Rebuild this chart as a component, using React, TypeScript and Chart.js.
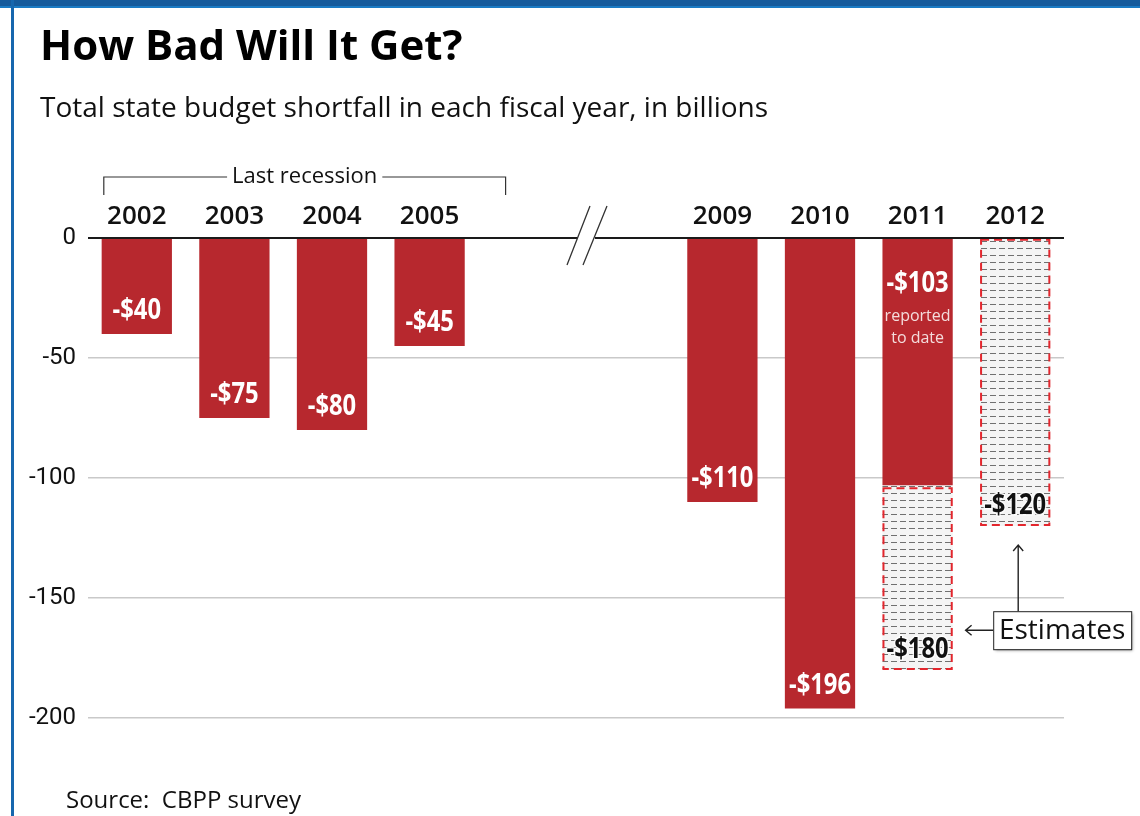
import React, { useEffect, useRef } from "react";
import { Chart, registerables } from "chart.js";

Chart.register(...registerables);

const categories = ["2002", "2003", "2004", "2005", "", "", "2009", "2010", "2011", "2012"];
const reported: (number | null)[] = [-40, -75, -80, -45, null, null, -110, -196, -103, null];
const reportedLabels = ["-$40", "-$75", "-$80", "-$45", "", "", "-$110", "-$196", "-$103", ""];
const reportedNotes = ["", "", "", "", "", "", "", "", "reported|to date", ""];
const estimateStart: (number | null)[] = [null, null, null, null, null, null, null, null, -103, 0];
const estimateEnd: (number | null)[] = [null, null, null, null, null, null, null, null, -180, -120];
const estimateLabels = ["", "", "", "", "", "", "", "", "-$180", "-$120"];
const yTicks = [0, -50, -100, -150, -200];

const RED = "#b7282e";
const DASH_RED = "#e3262d";
const OPEN = '"Open Sans", "Noto Sans", sans-serif';
const ROBOTO = 'Roboto, "Open Sans", sans-serif';

function makeHatch(): CanvasPattern | string {
  const c = document.createElement("canvas");
  c.width = 9;
  c.height = 7;
  const g = c.getContext("2d");
  if (!g) return "#eeeeee";
  g.fillStyle = "#f4f4f4";
  g.fillRect(0, 0, 9, 7);
  g.fillStyle = "#707070";
  g.fillRect(0, 3, 6, 1);
  return g.createPattern(c, "repeat") || "#eeeeee";
}

function condensedText(ctx: CanvasRenderingContext2D, text: string, x: number, y: number, sx: number, halo?: string) {
  ctx.save();
  ctx.translate(x, y);
  ctx.scale(sx, 1);
  if (halo) {
    ctx.lineWidth = 3;
    ctx.strokeStyle = halo;
    ctx.lineJoin = "round";
    ctx.strokeText(text, 0, 0);
  }
  ctx.fillText(text, 0, 0);
  ctx.restore();
}

const overlay = {
  id: "overlay",
  afterDatasetsDraw(chart: any) {
    const { ctx, chartArea: area, scales } = chart;
    const xs = scales.x;
    const ys = scales.y;
    ctx.save();

    // dashed borders of estimates
    const meta = chart.getDatasetMeta(1);
    meta.data.forEach((el: any, i: number) => {
      if (estimateStart[i] === null) return;
      const p = el.getProps(["x", "y", "base", "width"], true);
      const top = Math.min(p.y, p.base);
      const bot = Math.max(p.y, p.base);
      const inset = estimateStart[i] === 0 ? 1 : 3;
      ctx.strokeStyle = DASH_RED;
      ctx.lineWidth = 2;
      ctx.setLineDash([8, 5]);
      ctx.strokeRect(p.x - p.width / 2 + 1, top + inset, p.width - 2, bot - top - inset - 1);
    });
    ctx.setLineDash([]);

    // zero line with break
    const y0 = ys.getPixelForValue(0);
    const bxc = (xs.getPixelForValue(4) + xs.getPixelForValue(5)) / 2 + 11;
    ctx.strokeStyle = "#1a1a1a";
    ctx.lineWidth = 2;
    ctx.beginPath();
    ctx.moveTo(area.left, y0);
    ctx.lineTo(bxc - 9, y0);
    ctx.moveTo(bxc + 8, y0);
    ctx.lineTo(area.right, y0);
    ctx.stroke();
    ctx.strokeStyle = "#333";
    ctx.lineWidth = 1.3;
    ctx.beginPath();
    ctx.moveTo(bxc - 20, y0 + 27);
    ctx.lineTo(bxc + 3, y0 - 32);
    ctx.moveTo(bxc - 4, y0 + 27);
    ctx.lineTo(bxc + 20, y0 - 32);
    ctx.stroke();

    // reported labels
    const m0 = chart.getDatasetMeta(0);
    m0.data.forEach((el: any, i: number) => {
      const v = reported[i];
      if (v === null || !reportedLabels[i]) return;
      const p = el.getProps(["x", "y"], true);
      ctx.fillStyle = "#ffffff";
      ctx.textAlign = "center";
      ctx.textBaseline = "middle";
      ctx.font = `bold 29px ${OPEN}`;
      if (reportedNotes[i]) {
        const ty = y0 + 46;
        condensedText(ctx, reportedLabels[i], p.x, ty, 0.82);
        ctx.font = `16px ${OPEN}`;
        ctx.fillStyle = "#f4dcdc";
        reportedNotes[i].split("|").forEach((t, k) => ctx.fillText(t, p.x, ty + 32 + k * 22));
      } else {
        condensedText(ctx, reportedLabels[i], p.x, p.y - 23, 0.82);
      }
    });

    // estimate labels
    meta.data.forEach((el: any, i: number) => {
      if (estimateStart[i] === null || !estimateLabels[i]) return;
      const p = el.getProps(["x", "y", "base"], true);
      const bot = Math.max(p.y, p.base);
      ctx.font = `bold 29px ${OPEN}`;
      ctx.textAlign = "center";
      ctx.textBaseline = "middle";
      ctx.fillStyle = "#111";
      condensedText(ctx, estimateLabels[i], p.x, bot - 20, 0.82, "rgba(255,255,255,0.85)");
    });

    // bracket "Last recession"
    const bl = xs.getPixelForValue(0) - 33;
    const br = xs.getPixelForValue(3) + 76;
    const byy = y0 - 61;
    ctx.font = `22px ${OPEN}`;
    ctx.textAlign = "center";
    ctx.textBaseline = "middle";
    const label = "Last recession";
    const tw = ctx.measureText(label).width;
    const cx = (bl + br) / 2;
    ctx.fillStyle = "#111";
    ctx.fillText(label, cx, byy);
    ctx.strokeStyle = "#333";
    ctx.lineWidth = 1.2;
    ctx.beginPath();
    ctx.moveTo(bl, byy + 18);
    ctx.lineTo(bl, byy);
    ctx.lineTo(cx - tw / 2 - 5, byy);
    ctx.moveTo(cx + tw / 2 + 5, byy);
    ctx.lineTo(br, byy);
    ctx.lineTo(br, byy + 18);
    ctx.stroke();

    // Estimates callout
    const x9 = xs.getPixelForValue(9);
    const boxL = x9 - 22;
    const boxT = ys.getPixelForValue(-155.5);
    const boxW = 138;
    const boxH = 38;
    ctx.save();
    ctx.shadowColor = "rgba(0,0,0,0.4)";
    ctx.shadowOffsetX = 2;
    ctx.shadowOffsetY = 2;
    ctx.shadowBlur = 3;
    ctx.fillStyle = "#fff";
    ctx.fillRect(boxL, boxT, boxW, boxH);
    ctx.restore();
    ctx.strokeStyle = "#222";
    ctx.lineWidth = 1;
    ctx.strokeRect(boxL + 0.5, boxT + 0.5, boxW, boxH);
    ctx.fillStyle = "#111";
    ctx.font = `28px ${OPEN}`;
    ctx.textAlign = "center";
    ctx.textBaseline = "middle";
    ctx.fillText("Estimates", boxL + boxW / 2, boxT + boxH / 2 + 1);

    ctx.strokeStyle = "#222";
    ctx.lineWidth = 1.4;
    const ay = boxT + boxH / 2;
    const ax = xs.getPixelForValue(8) + 48;
    ctx.beginPath();
    ctx.moveTo(boxL, ay);
    ctx.lineTo(ax, ay);
    ctx.moveTo(ax + 6, ay - 5);
    ctx.lineTo(ax, ay);
    ctx.lineTo(ax + 6, ay + 5);
    const ux = x9 + 3;
    const uy = ys.getPixelForValue(-120) + 19;
    ctx.moveTo(ux, boxT);
    ctx.lineTo(ux, uy);
    ctx.moveTo(ux - 5, uy + 6);
    ctx.lineTo(ux, uy);
    ctx.lineTo(ux + 5, uy + 6);
    ctx.stroke();

    ctx.restore();
  },
};

export default function App() {
  const ref = useRef<HTMLCanvasElement>(null);
  useEffect(() => {
    document.body.style.margin = "0";
    const canvas = ref.current;
    if (!canvas) return;
    const hatch = makeHatch();
    const chart = new Chart(canvas, {
      type: "bar",
      data: {
        labels: categories,
        datasets: [
          {
            label: "Reported",
            data: reported,
            backgroundColor: RED,
            grouped: false,
            barPercentage: 0.72,
            categoryPercentage: 1,
          } as any,
          {
            label: "Estimate",
            data: estimateStart.map((s, i) => (s === null ? null : [s, estimateEnd[i] as number])),
            backgroundColor: hatch,
            grouped: false,
            barPercentage: 0.72,
            categoryPercentage: 1,
          } as any,
        ],
      },
      options: {
        responsive: false,
        animation: false,
        devicePixelRatio: 1,
        layout: { padding: { top: 185, left: 0, right: 76, bottom: 98 } },
        plugins: { legend: { display: false }, tooltip: { enabled: false } },
        scales: {
          x: {
            position: "top",
            grid: { display: false, drawTicks: false },
            border: { display: false },
            ticks: {
              padding: 6,
              color: "#111",
              font: { family: OPEN, size: 26, weight: "600" },
              maxRotation: 0,
              autoSkip: false,
            },
            afterFit: (s: any) => {
              s.height = 53;
            },
          },
          y: {
            min: -200,
            max: 0,
            afterBuildTicks: (s: any) => {
              s.ticks = yTicks.map((v) => ({ value: v }));
            },
            ticks: {
              padding: 12,
              color: "#111",
              font: { family: ROBOTO, size: 24 },
              callback: (v: any) => String(v),
            },
            grid: {
              color: (c: any) => (c.tick && c.tick.value === 0 ? "rgba(0,0,0,0)" : "#c9c9c9"),
              lineWidth: 1.5,
              drawTicks: false,
            },
            border: { display: false },
            afterFit: (s: any) => {
              s.width = 88;
            },
          },
        },
      } as any,
      plugins: [overlay],
    });
    return () => chart.destroy();
  }, []);

  return (
    <div style={{ position: "relative", width: 1140, height: 816, background: "#fff", overflow: "hidden" }}>
      <canvas ref={ref} width={1140} height={816} style={{ position: "absolute", left: 0, top: 0 }} />
      <div style={{ position: "absolute", left: 0, top: 0, width: 1140, height: 6, background: "#165b9c" }} />
      <div style={{ position: "absolute", left: 0, top: 6, width: 1140, height: 2, background: "#1b7bc4" }} />
      <div style={{ position: "absolute", left: 11, top: 0, width: 3, height: 816, background: "#1767ae" }} />
      <div
        style={{
          position: "absolute",
          left: 40,
          top: 23,
          fontFamily: OPEN,
          fontWeight: 700,
          fontSize: 42,
          lineHeight: 1,
          color: "#000",
          whiteSpace: "pre",
        }}
      >
        How Bad Will It Get?
      </div>
      <div
        style={{
          position: "absolute",
          left: 40,
          top: 92,
          fontFamily: OPEN,
          fontSize: 28,
          lineHeight: 1,
          color: "#111",
          whiteSpace: "pre",
        }}
      >
        Total state budget shortfall in each fiscal year, in billions
      </div>
      <div
        style={{
          position: "absolute",
          left: 66,
          top: 787,
          fontFamily: OPEN,
          fontSize: 24,
          lineHeight: 1,
          color: "#111",
          whiteSpace: "pre",
        }}
      >
        Source:  CBPP survey
      </div>
    </div>
  );
}
